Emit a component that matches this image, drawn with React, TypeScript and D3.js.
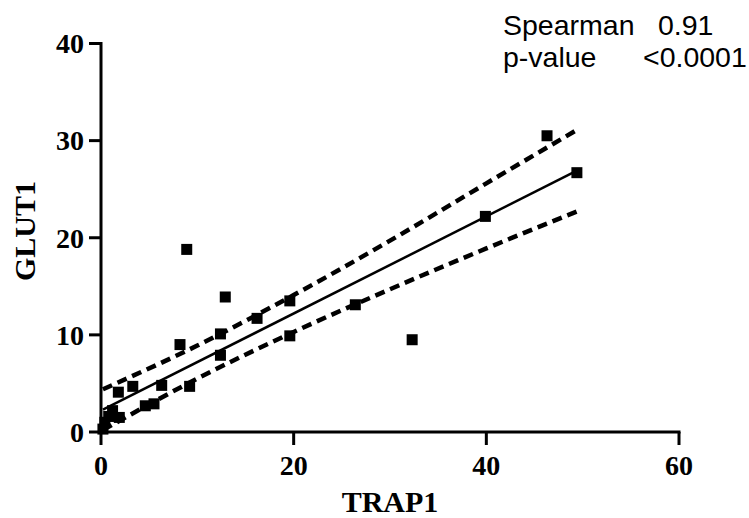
import React from "react";
import * as d3 from "d3";

const trap1 = [0.2, 0.4, 0.8, 1.2, 1.9, 1.8, 3.3, 4.6, 5.5, 6.3, 9.2, 8.2, 12.4, 12.4, 8.9, 12.9, 16.2, 19.6, 19.6, 26.4, 32.3, 39.9, 46.3, 49.4];
const glut1 = [0.3, 1.0, 1.6, 2.2, 1.5, 4.1, 4.7, 2.7, 2.9, 4.8, 4.7, 9.0, 7.9, 10.1, 18.8, 13.9, 11.7, 13.5, 9.9, 13.1, 9.5, 22.2, 30.5, 26.7];

const fitX = [0.2, 49.4];
const fitY = [2.3, 26.9];

const bandX = [0.2, 10, 20, 30, 40, 49.4];
const bandUpper = [4.4, 8.9, 14.1, 19.7, 25.6, 31.1];
const bandLower = [0.2, 5.5, 10.3, 14.7, 18.9, 22.7];

const xTicks = [0, 20, 40, 60];
const yTicks = [0, 10, 20, 30, 40];

const statLabels = ["Spearman", "p-value"];
const statValues = ["0.91", "<0.0001"];

export default function App() {
  const W = 749, H = 518;
  const x = d3.scaleLinear().domain([0, 60]).range([101, 679]);
  const y = d3.scaleLinear().domain([0, 40]).range([432, 43.5]);
  const serif = "'Liberation Serif', 'Times New Roman', serif";
  const sans = "'Liberation Sans', Arial, sans-serif";

  const line = d3.line<[number, number]>().x(d => x(d[0])).y(d => y(d[1]));
  const curve = d3.line<[number, number]>().x(d => x(d[0])).y(d => y(d[1])).curve(d3.curveMonotoneX);

  const fitPts = fitX.map((v, i) => [v, fitY[i]] as [number, number]);
  const upPts = bandX.map((v, i) => [v, bandUpper[i]] as [number, number]);
  const loPts = bandX.map((v, i) => [v, bandLower[i]] as [number, number]);
  const sq = 11;

  return (
    <svg width={W} height={H} style={{ position: "absolute", left: 0, top: 0, background: "#fff" }}>
      <rect x={0} y={0} width={W} height={H} fill="#fff" />
      <line x1={x(0)} x2={x(0)} y1={y(40) - 1.5} y2={y(0) + 1.5} stroke="#000" strokeWidth={3} />
      <line x1={x(0) - 1.5} x2={x(60) + 1.5} y1={y(0)} y2={y(0)} stroke="#000" strokeWidth={3} />
      {yTicks.map(t => (
        <g key={"y" + t}>
          <line x1={x(0) - 12} x2={x(0)} y1={y(t)} y2={y(t)} stroke="#000" strokeWidth={3} />
          <text x={84} y={y(t)} dy="0.35em" textAnchor="end" fontFamily={serif} fontWeight="bold" fontSize={28} fill="#000">{t}</text>
        </g>
      ))}
      {xTicks.map(t => (
        <g key={"x" + t}>
          <line x1={x(t)} x2={x(t)} y1={y(0)} y2={y(0) + 13} stroke="#000" strokeWidth={3} />
          <text x={x(t)} y={475} textAnchor="middle" fontFamily={serif} fontWeight="bold" fontSize={28} fill="#000">{t}</text>
        </g>
      ))}
      <text x={390} y={512} textAnchor="middle" fontFamily={serif} fontWeight="bold" fontSize={30} fill="#000">TRAP1</text>
      <text transform="translate(35,231) rotate(-90)" textAnchor="middle" fontFamily={serif} fontWeight="bold" fontSize={30} fill="#000">GLUT1</text>

      <path d={curve(upPts) || ""} fill="none" stroke="#000" strokeWidth={4.5} strokeDasharray="10,6" />
      <path d={curve(loPts) || ""} fill="none" stroke="#000" strokeWidth={4.5} strokeDasharray="10,6" />
      <path d={line(fitPts) || ""} fill="none" stroke="#000" strokeWidth={2.5} />

      {trap1.map((v, i) => (
        <rect key={i} x={x(v) - sq / 2} y={y(glut1[i]) - sq / 2} width={sq} height={sq} fill="#000" />
      ))}

      {statLabels.map((s, i) => (
        <text key={s} x={503} y={35 + i * 32} fontFamily={sans} fontSize={28.5} fill="#000">{s}</text>
      ))}
      <text x={658} y={35} fontFamily={sans} fontSize={28.5} fill="#000">{statValues[0]}</text>
      <text x={643} y={67} fontFamily={sans} fontSize={28.5} fill="#000">{statValues[1]}</text>
    </svg>
  );
}
